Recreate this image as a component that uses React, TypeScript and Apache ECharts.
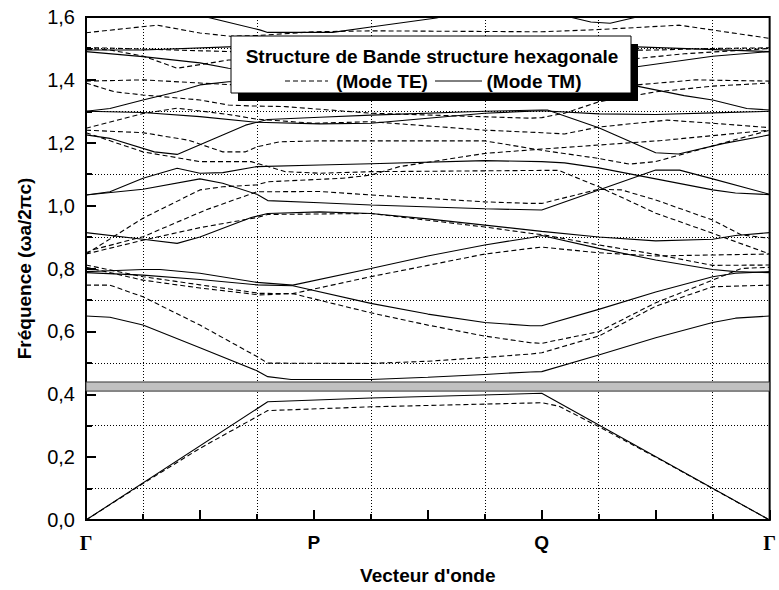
import React, { useEffect, useRef } from 'react';
import * as echarts from 'echarts';

// x positions: 0 = Γ, 4 = P, 8 = Q, 12 = Γ
const xTickLabels: Record<number, string> = { 0: 'Γ', 4: 'P', 8: 'Q', 12: 'Γ' };
const gapBand: [number, number] = [0.41, 0.439];

// TM bands (solid)
const tm1 = [[0, 0], [3.19, 0.376], [5, 0.388], [8, 0.403], [12, 0]];
const tm2 = [[0, 0.649], [0.42, 0.645], [1, 0.62], [2, 0.548], [3, 0.475], [3.19, 0.456], [3.6, 0.447], [5, 0.447], [6, 0.454], [7, 0.463], [7.8, 0.471], [8, 0.472], [9, 0.525], [10, 0.58], [11, 0.628], [11.4, 0.642], [12, 0.649]];
const tm3 = [[0, 0.79], [0.42, 0.793], [1, 0.797], [1.3, 0.797], [2, 0.785], [3, 0.756], [3.63, 0.747], [5, 0.8], [6, 0.84], [7, 0.875], [7.8, 0.898], [8, 0.905], [9, 0.864], [10, 0.827], [11, 0.797], [11.4, 0.79], [12, 0.787]];
const tm4 = [[0, 0.787], [1, 0.779], [2, 0.765], [3, 0.748], [3.63, 0.745], [5, 0.689], [6, 0.655], [7, 0.628], [7.8, 0.618], [8, 0.618], [9, 0.67], [10, 0.725], [11, 0.774], [11.4, 0.785], [12, 0.79]];
const tm5 = [[0, 0.914], [1, 0.893], [1.6, 0.88], [2, 0.9], [2.9, 0.962], [3.19, 0.975], [4.1, 0.98], [5, 0.975], [6, 0.958], [7, 0.938], [7.8, 0.922], [8, 0.918], [9, 0.9], [10, 0.888], [11, 0.893], [11.4, 0.905], [12, 0.914]];
const tm6 = [[0, 1.034], [1, 1.052], [2, 1.085], [2.4, 1.071], [3, 1.036], [3.19, 1.016], [4.1, 1.009], [5, 1.002], [7, 0.99], [8, 0.986], [9, 1.05], [10, 1.113], [10.42, 1.113], [11, 1.085], [12, 1.036]];
const tm7 = [[0, 1.034], [0.42, 1.044], [1, 1.087], [1.6, 1.119], [2, 1.103], [2.4, 1.105], [3, 1.124], [4.1, 1.129], [5, 1.133], [7, 1.143], [8, 1.14], [8.4, 1.136], [9, 1.12], [10, 1.085], [11, 1.05], [11.4, 1.04], [12, 1.035]];
const tm8 = [[0, 1.225], [0.42, 1.214], [1.2, 1.171], [1.6, 1.163], [2.8, 1.256], [3.19, 1.274], [4.1, 1.281], [5, 1.288], [7, 1.3], [8, 1.304], [8.1, 1.304], [9, 1.248], [10, 1.168], [10.4, 1.164], [11.2, 1.198], [12, 1.225]];
const tm9 = [[0, 1.3], [1, 1.296], [2, 1.283], [3, 1.265], [4.1, 1.26], [5, 1.262], [7, 1.294], [8, 1.302], [9, 1.292], [10, 1.29], [11, 1.295], [12, 1.3]];
const tm10 = [[0, 1.3], [0.42, 1.309], [1, 1.336], [1.6, 1.362], [2, 1.384], [2.5, 1.394], [4, 1.4], [6, 1.4], [8, 1.398], [9, 1.392], [9.67, 1.38], [10.5, 1.35], [11, 1.336], [11.6, 1.309], [12, 1.304]];
const tm11 = [[0, 1.495], [1, 1.495], [2.5, 1.505], [3, 1.507], [6, 1.51], [9.67, 1.505], [12, 1.49]];
const tm12 = [[0, 1.49], [1, 1.474], [2, 1.454], [2.5, 1.437], [4, 1.42], [6, 1.42], [9.67, 1.442], [11, 1.475], [12, 1.49]];
const tm13 = [[0, 1.66], [1, 1.64], [2, 1.605], [3.05, 1.559], [3.19, 1.551], [4.33, 1.551], [5, 1.568], [6.15, 1.597], [7, 1.63], [8, 1.64], [8.49, 1.6], [8.86, 1.584], [9.2, 1.58], [9.67, 1.6], [10, 1.62], [12, 1.65]];

// TE bands (dashed)
const te1 = [[0, 0], [1, 0.116], [2, 0.228], [3.19, 0.348], [5, 0.36], [8, 0.373], [8.3, 0.362], [9, 0.297], [10, 0.2], [11, 0.1], [12, 0]];
const te2 = [[0, 0.747], [0.42, 0.747], [1, 0.71], [2, 0.62], [3, 0.52], [3.19, 0.499], [5, 0.498], [6, 0.505], [7, 0.517], [7.8, 0.528], [8, 0.532], [9, 0.585], [10, 0.68], [11, 0.742], [12, 0.747]];
const te3 = [[0, 0.811], [1, 0.774], [2, 0.748], [3.05, 0.721], [3.63, 0.72], [5, 0.659], [6, 0.62], [7, 0.585], [7.8, 0.564], [8, 0.562], [9, 0.599], [10, 0.691], [11, 0.763], [11.5, 0.8], [12, 0.804]];
const te4 = [[0, 0.804], [1, 0.763], [2, 0.738], [3.05, 0.716], [3.63, 0.72], [5, 0.774], [6, 0.81], [7, 0.846], [7.8, 0.864], [8, 0.868], [9, 0.85], [10, 0.84], [11, 0.843], [12, 0.846]];
const te5 = [[0, 0.846], [1, 0.89], [2, 0.93], [3, 0.962], [3.19, 0.972], [5, 0.975], [7, 0.932], [7.8, 0.912], [8, 0.908], [9, 0.875], [10, 0.845], [11, 0.81], [12, 0.811]];
const te6 = [[0, 0.85], [0.15, 0.861], [1, 0.901], [2.1, 0.986], [3, 1.044], [4.1, 1.045], [5, 1.034], [7, 1.012], [7.8, 1.007], [8, 1.007], [9, 1.052], [9.4, 1.05], [10, 1.018], [11, 0.954], [11.5, 0.907], [12, 0.896]];
const te7 = [[0, 0.846], [1, 0.96], [2, 1.05], [2.4, 1.06], [3, 1.066], [3.19, 1.076], [4.5, 1.087], [5, 1.097], [5.5, 1.124], [7, 1.166], [8, 1.18], [8.4, 1.185], [10.1, 1.207], [12, 1.24]];
const te8 = [[0, 1.232], [1, 1.171], [2, 1.14], [2.9, 1.14], [3.5, 1.108], [4.1, 1.103], [5, 1.108], [8, 1.112], [8.3, 1.112], [9, 1.06], [10, 0.976], [11, 0.912], [12, 0.846]];
const te9 = [[0, 1.24], [1, 1.232], [1.8, 1.208], [2.4, 1.171], [2.8, 1.171], [3, 1.187], [3.4, 1.203], [4.1, 1.206], [7, 1.206], [8, 1.176], [9, 1.15], [9.54, 1.132], [10, 1.14], [11, 1.19], [12, 1.24]];
const te10 = [[0, 1.246], [1, 1.293], [1.6, 1.31], [2.5, 1.29], [3, 1.275], [4, 1.262], [5, 1.267], [7, 1.24], [8, 1.232], [8.4, 1.228], [9, 1.25], [10.2, 1.272], [11, 1.262], [12, 1.248]];
const te11 = [[0, 1.39], [0.5, 1.362], [1, 1.352], [2, 1.336], [2.5, 1.32], [2.9, 1.317], [3.5, 1.315], [5, 1.294], [7.8, 1.278], [8, 1.28], [8.4, 1.294], [9, 1.33], [10, 1.362], [11, 1.38], [12, 1.39]];
const te12 = [[0, 1.396], [1, 1.4], [2, 1.39], [2.5, 1.385], [5, 1.37], [8, 1.365], [9.67, 1.384], [10.7, 1.4], [12, 1.396]];
const te13 = [[0, 1.503], [1, 1.498], [2.5, 1.49], [6, 1.49], [10, 1.495], [11, 1.5], [12, 1.502]];
const te14 = [[0, 1.5], [0.42, 1.495], [1, 1.476], [1.6, 1.437], [2.5, 1.463], [5, 1.47], [9.67, 1.468], [10.5, 1.483], [12, 1.5]];
const te15 = [[0, 1.55], [1.25, 1.574], [2, 1.549], [2.53, 1.539], [3, 1.541], [4, 1.553], [5, 1.556], [8, 1.553], [9, 1.56], [10.42, 1.574], [12, 1.532]];

const tmBands = [tm1, tm2, tm3, tm4, tm5, tm6, tm7, tm8, tm9, tm10, tm11, tm12, tm13];
const teBands = [te1, te2, te3, te4, te5, te6, te7, te8, te9, te10, te11, te12, te13, te14, te15];

const SANS = '"Liberation Sans", Arial, sans-serif';
const SERIF = '"Liberation Serif", "Times New Roman", serif';

export default function App() {
  const ref = useRef<HTMLDivElement>(null);
  useEffect(() => {
    if (!ref.current) return;
    const chart = echarts.init(ref.current, null, { renderer: 'svg' });
    const series: any[] = [];
    tmBands.forEach((b, i) => {
      series.push({
        name: 'TM ' + (i + 1), type: 'line', data: b, symbol: 'none', silent: true, z: 3,
        lineStyle: { color: '#000', width: 1.1, type: 'solid' },
      });
    });
    teBands.forEach((b, i) => {
      series.push({
        name: 'TE ' + (i + 1), type: 'line', data: b, symbol: 'none', silent: true, z: 3,
        lineStyle: { color: '#000', width: 1.1, type: [5, 3] },
      });
    });
    series[0].markArea = {
      silent: true,
      itemStyle: { color: '#c0c0c0', borderColor: '#333', borderWidth: 1 },
      data: [[{ xAxis: 0, yAxis: gapBand[0] }, { xAxis: 12, yAxis: gapBand[1] }]],
    };

    chart.setOption({
      animation: false,
      backgroundColor: '#fff',
      grid: { left: 86, right: 9, top: 17, bottom: 70, show: true, borderColor: '#000', borderWidth: 2, backgroundColor: 'transparent' },
      xAxis: {
        type: 'value', min: 0, max: 12, interval: 2,
        name: "Vecteur d'onde", nameLocation: 'middle', nameGap: 46,
        nameTextStyle: { fontFamily: SANS, fontWeight: 'bold', fontSize: 19, color: '#000' },
        axisLine: { show: true, lineStyle: { color: '#000', width: 2 } },
        axisTick: { show: true, inside: true, length: 10, lineStyle: { color: '#000', width: 2 } },
        minorTick: { show: true, splitNumber: 2, length: 6, lineStyle: { color: '#000', width: 2 } },
        splitLine: { show: false },
        minorSplitLine: { show: true, lineStyle: { color: '#000', type: [1, 2], width: 1 } },
        axisLabel: {
          interval: 0, showMinLabel: true, showMaxLabel: true, margin: 13, color: '#000',
          formatter: (v: number) => {
            const s = xTickLabels[Math.round(v)];
            if (!s) return '';
            return s === 'Γ' ? '{g|Γ}' : '{p|' + s + '}';
          },
          rich: {
            g: { fontFamily: SERIF, fontWeight: 'bold', fontSize: 20, color: '#000' },
            p: { fontFamily: SANS, fontWeight: 'bold', fontSize: 19, color: '#000' },
          },
        },
      },
      yAxis: {
        type: 'value', min: 0, max: 1.6, interval: 0.2,
        name: 'Fréquence (ωa/2πc)', nameLocation: 'middle', nameGap: 52,
        nameTextStyle: { fontFamily: SANS, fontWeight: 'bold', fontSize: 19, color: '#000' },
        axisLine: { show: true, lineStyle: { color: '#000', width: 2 } },
        axisTick: { show: true, inside: true, length: 10, lineStyle: { color: '#000', width: 2 } },
        minorTick: { show: true, splitNumber: 2, length: 6, lineStyle: { color: '#000', width: 2 } },
        splitLine: { show: false },
        minorSplitLine: { show: true, lineStyle: { color: '#000', type: [1, 2], width: 1 } },
        axisLabel: {
          margin: 11, color: '#000', fontFamily: SANS, fontSize: 20,
          formatter: (v: number) => v.toFixed(1).replace('.', ','),
        },
      },
      graphic: [
        { type: 'rect', z: 100, shape: { x: 238, y: 44, width: 400, height: 57 }, style: { fill: '#000' } },
        { type: 'rect', z: 101, shape: { x: 231, y: 36, width: 400, height: 57 }, style: { fill: '#fff', stroke: '#000', lineWidth: 1 } },
        { type: 'text', z: 102, x: 432, y: 56, style: { text: 'Structure de Bande structure hexagonale', font: 'bold 19px ' + SANS, fill: '#000', textAlign: 'center', textVerticalAlign: 'middle' } },
        { type: 'line', z: 102, shape: { x1: 285, y1: 81, x2: 328, y2: 81 }, style: { stroke: '#000', lineWidth: 1, lineDash: [5, 3] } },
        { type: 'text', z: 102, x: 382, y: 81, style: { text: '(Mode TE)', font: 'bold 19px ' + SANS, fill: '#000', textAlign: 'center', textVerticalAlign: 'middle' } },
        { type: 'line', z: 102, shape: { x1: 435, y1: 81, x2: 482, y2: 81 }, style: { stroke: '#000', lineWidth: 1 } },
        { type: 'text', z: 102, x: 534, y: 81, style: { text: '(Mode TM)', font: 'bold 19px ' + SANS, fill: '#000', textAlign: 'center', textVerticalAlign: 'middle' } },
      ],
      series,
    });
    return () => chart.dispose();
  }, []);
  return <div ref={ref} style={{ position: 'absolute', left: 0, top: 0, width: 779, height: 590, background: '#fff' }} />;
}
